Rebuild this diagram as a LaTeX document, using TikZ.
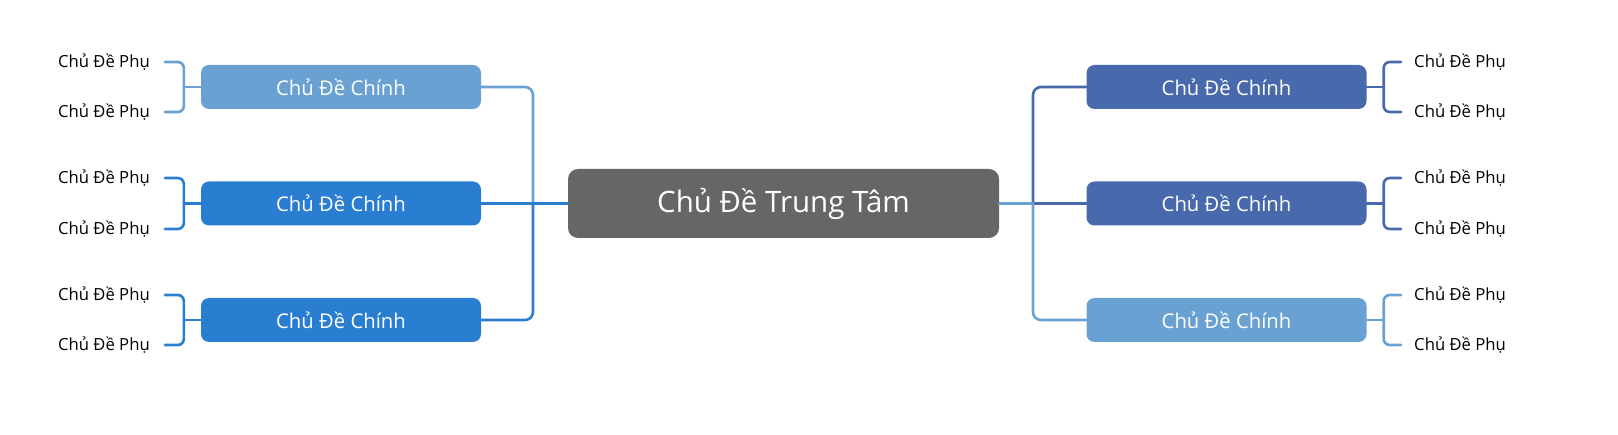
\documentclass[tikz,border=0pt]{standalone}
\usepackage{fontspec}
\setmainfont{Open Sans}
\usetikzlibrary{calc}
\definecolor{topiclight}{HTML}{6AA1D3}
\definecolor{topicblue}{HTML}{2A7ED2}
\definecolor{topicnavy}{HTML}{4869AC}
\definecolor{centergray}{HTML}{666666}

\begin{document}
\begin{tikzpicture}[x=1pt, y=-1pt, line cap=round, line join=round,
	centraltopic/.style={fill=centergray, text=white, rounded corners=10pt,
		minimum width=431pt, minimum height=69pt, font=\fontsize{29.5}{34}\selectfont},
	maintopic/.style={fill=#1, text=white, rounded corners=8pt,
		minimum width=280pt, minimum height=44pt, font=\fontsize{20.3}{24}\selectfont},
	subtopic/.style={inner sep=0pt, font=\fontsize{16.7}{20}\selectfont},
	link/.style={draw=#1, line width=2.6pt, rounded corners=8pt},
	brace/.style={draw=#1, line width=2.6pt, rounded corners=6pt}]
	
	\useasboundingbox (0,0) rectangle (1618,435);
	
	% central topic
	\node[centraltopic] (main) at (783.5,203.5) {Chủ Đề Trung Tâm};
	
	%========================
	% Left branch
	%========================
	\begin{scope}
		\node[maintopic=topiclight] (l1) at (341,87) {Chủ Đề Chính};
		\node[maintopic=topicblue] (l2) at (341,203.5) {Chủ Đề Chính};
		\node[maintopic=topicblue] (l3) at (341,320) {Chủ Đề Chính};
		
		% sub topics
		\node[subtopic, anchor=east] (l1a) at (150,62) {Chủ Đề Phụ};
		\node[subtopic, anchor=east] (l1b) at (150,112) {Chủ Đề Phụ};
		\node[subtopic, anchor=east] (l2a) at (150,178) {Chủ Đề Phụ};
		\node[subtopic, anchor=east] (l2b) at (150,229) {Chủ Đề Phụ};
		\node[subtopic, anchor=east] (l3a) at (150,295) {Chủ Đề Phụ};
		\node[subtopic, anchor=east] (l3b) at (150,345) {Chủ Đề Phụ};
		
		% links to the central topic
		\coordinate (lspine) at (533,203.5);
		\draw[link=topiclight] (lspine) |- (l1.east);
		\draw[link=topicblue] (lspine) |- (l3.east);
		\draw[link=topicblue] (main.west) -- (l2.east);
		
		% braces to the sub topics
		\draw[brace=topiclight] (l1.west) -- ++(-17,0) coordinate (l1k);
		\draw[brace=topiclight] ([xshift=15pt]l1a.east) -| (l1k) |- ([xshift=15pt]l1b.east);
		\draw[brace=topicblue] (l2.west) -- ++(-17,0) coordinate (l2k);
		\draw[brace=topicblue] ([xshift=15pt]l2a.east) -| (l2k) |- ([xshift=15pt]l2b.east);
		\draw[brace=topicblue] (l3.west) -- ++(-17,0) coordinate (l3k);
		\draw[brace=topicblue] ([xshift=15pt]l3a.east) -| (l3k) |- ([xshift=15pt]l3b.east);
	\end{scope}
	
	%========================
	% Right branch
	%========================
	\begin{scope}
		\node[maintopic=topicnavy] (r1) at (1226.5,87) {Chủ Đề Chính};
		\node[maintopic=topicnavy] (r2) at (1226.5,203.5) {Chủ Đề Chính};
		\node[maintopic=topiclight] (r3) at (1226.5,320) {Chủ Đề Chính};
		
		% sub topics
		\node[subtopic, anchor=west] (r1a) at (1414,62) {Chủ Đề Phụ};
		\node[subtopic, anchor=west] (r1b) at (1414,112) {Chủ Đề Phụ};
		\node[subtopic, anchor=west] (r2a) at (1414,178) {Chủ Đề Phụ};
		\node[subtopic, anchor=west] (r2b) at (1414,229) {Chủ Đề Phụ};
		\node[subtopic, anchor=west] (r3a) at (1414,295) {Chủ Đề Phụ};
		\node[subtopic, anchor=west] (r3b) at (1414,345) {Chủ Đề Phụ};
		
		% links to the central topic
		\coordinate (rspine) at (1033,203.5);
		\draw[link=topicnavy] (rspine) |- (r1.west);
		\draw[link=topicnavy] (rspine) -- (r2.west);
		\draw[link=topiclight] (rspine) |- (r3.west);
		\draw[link=topiclight] (main.east) -- (rspine);
		
		% braces to the sub topics
		\draw[brace=topicnavy] (r1.east) -- ++(17,0) coordinate (r1k);
		\draw[brace=topicnavy] ([xshift=-13pt]r1a.west) -| (r1k) |- ([xshift=-13pt]r1b.west);
		\draw[brace=topicnavy] (r2.east) -- ++(17,0) coordinate (r2k);
		\draw[brace=topicnavy] ([xshift=-13pt]r2a.west) -| (r2k) |- ([xshift=-13pt]r2b.west);
		\draw[brace=topiclight] (r3.east) -- ++(17,0) coordinate (r3k);
		\draw[brace=topiclight] ([xshift=-13pt]r3a.west) -| (r3k) |- ([xshift=-13pt]r3b.west);
	\end{scope}
	
\end{tikzpicture}
\end{document}
